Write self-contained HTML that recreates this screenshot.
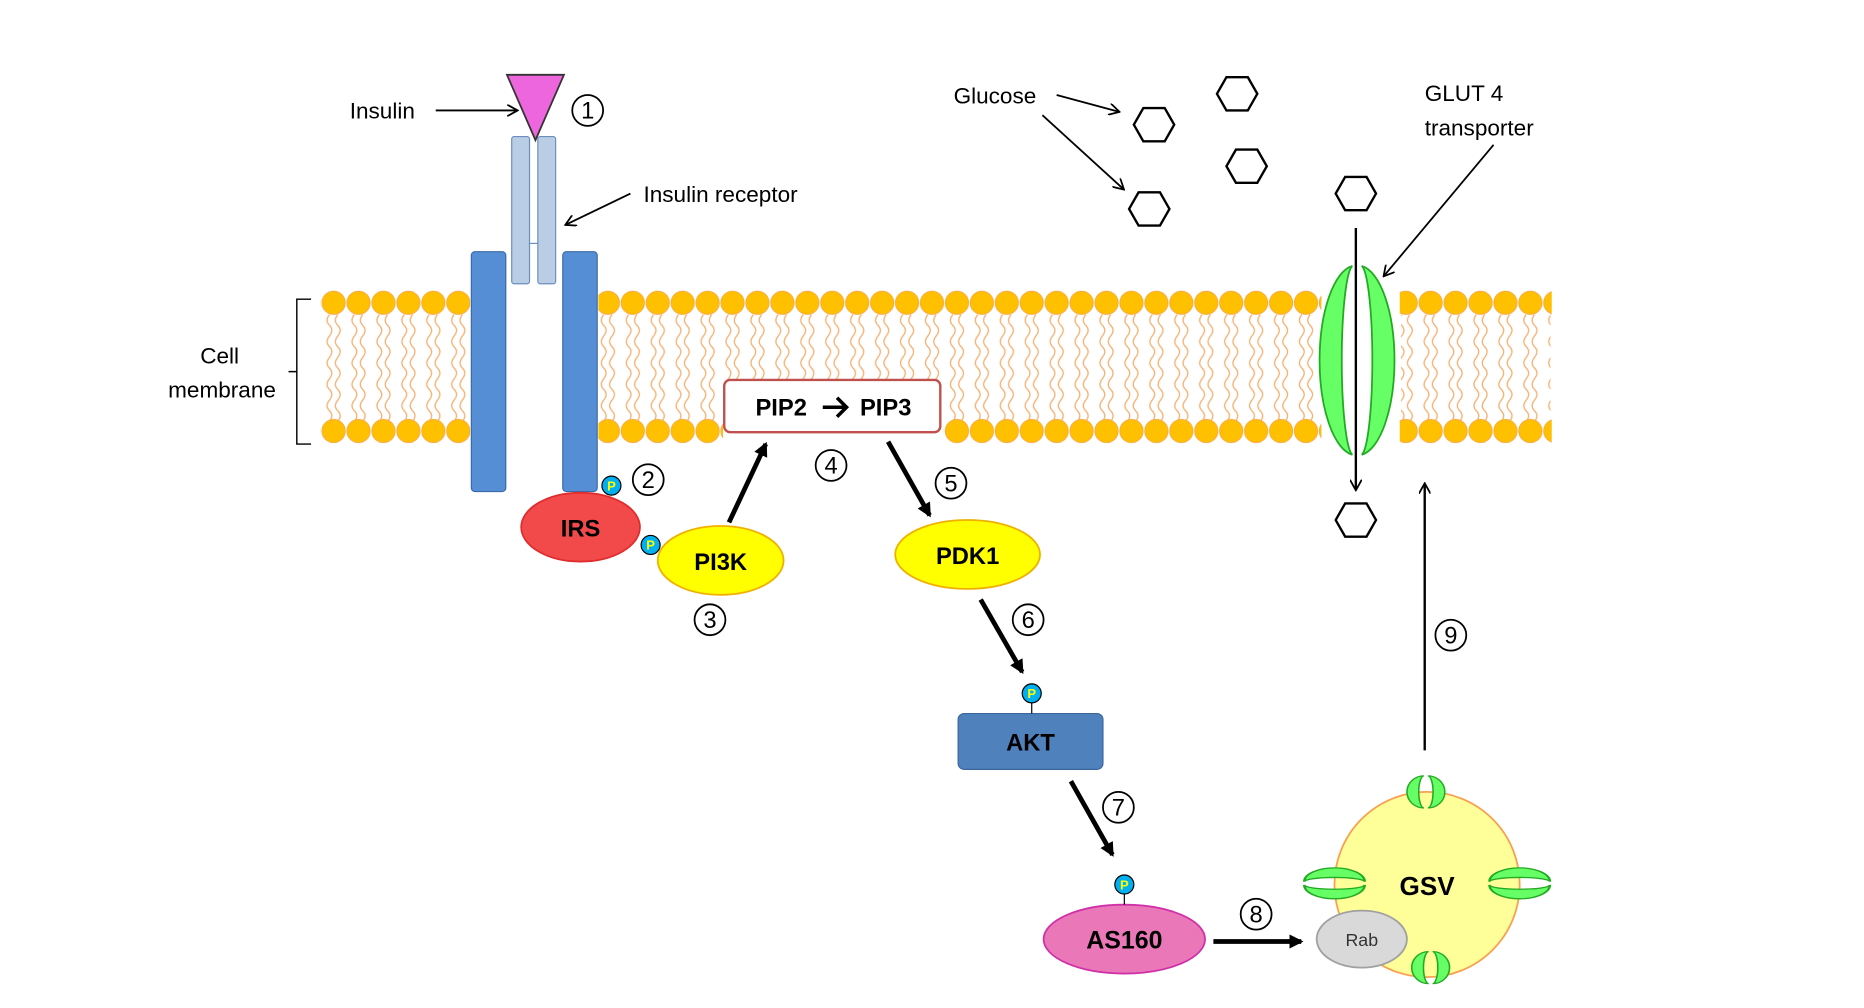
<!DOCTYPE html>
<html><head><meta charset="utf-8"><style>html,body{margin:0;padding:0;background:#fff}svg{display:block}</style></head>
<body>
<svg width="1864" height="1008" viewBox="0 0 1570 849" xmlns="http://www.w3.org/2000/svg" font-family="Liberation Sans, sans-serif">
<defs>
<pattern id="hd" x="270.5" y="0" width="21" height="840" patternUnits="userSpaceOnUse">
<circle cx="10.5" cy="255" r="9.8" fill="#ffc000" stroke="#f8a848" stroke-width="0.8"/>
<circle cx="10.5" cy="363" r="9.8" fill="#ffc000" stroke="#f8a848" stroke-width="0.8"/>
</pattern>
<pattern id="tl" x="270.5" y="0" width="21" height="840" patternUnits="userSpaceOnUse">
<path d="M7 265 q-4 5 0 9 t0 9 t0 9 t0 9 t0 9 t0 9 t0 9 t0 9 t0 9 t0 9 M14 265 q-4 5 0 9 t0 9 t0 9 t0 9 t0 9 t0 9 t0 9 t0 9 t0 9 t0 9" fill="none" stroke="#f8b070" stroke-width="1.1"/>
</pattern>
<marker id="a" markerWidth="10" markerHeight="10" refX="8" refY="5" orient="auto" markerUnits="userSpaceOnUse"><path d="M0 0 L9 5 L0 10" fill="none" stroke="#000" stroke-width="1.5"/></marker>
<marker id="b" markerWidth="12" markerHeight="12" refX="10" refY="6" orient="auto" markerUnits="userSpaceOnUse"><path d="M0 0 L12 6 L0 12 z" fill="#000"/></marker>
<g id="gl"><path d="M-1.5 -15 A13 15 0 0 0 -1.5 15 A4 15 0 0 1 -1.5 -15 z M1.5 -15 A13 15 0 0 1 1.5 15 A4 15 0 0 0 1.5 -15 z" fill="#66ff66" stroke="#22aa22" stroke-width="1.2"/></g>
<polygon id="hx" points="-17,0 -9,-14 9,-14 17,0 9,14 -9,14" fill="#fff" stroke="#000" stroke-width="2"/>
</defs>

<rect x="272" y="262" width="125" height="93" fill="url(#tl)"/>
<rect x="503" y="262" width="605" height="93" fill="url(#tl)"/>
<rect x="1180" y="262" width="126" height="93" fill="url(#tl)"/>
<rect x="270" y="244" width="126" height="22" fill="url(#hd)"/>
<rect x="270" y="352" width="126" height="22" fill="url(#hd)"/>
<rect x="504" y="244" width="609" height="22" fill="url(#hd)"/>
<rect x="504" y="352" width="105" height="22" fill="url(#hd)"/>
<rect x="795" y="352" width="318" height="22" fill="url(#hd)"/>
<rect x="1179" y="244" width="128" height="22" fill="url(#hd)"/>
<rect x="1179" y="352" width="128" height="22" fill="url(#hd)"/>

<path d="M262 252 H250 V374 H262 M250 313 H243" fill="none" stroke="#000" stroke-width="1.2"/>
<text x="185" y="306" font-size="19" text-anchor="middle">Cell</text>
<text x="187" y="335" font-size="19" text-anchor="middle">membrane</text>

<rect x="431" y="115" width="15" height="124" rx="2" fill="#b9cde5" stroke="#6c8ebf" stroke-width="1"/>
<rect x="453" y="115" width="15" height="124" rx="2" fill="#b9cde5" stroke="#6c8ebf" stroke-width="1"/>
<line x1="446" y1="205" x2="453" y2="205" stroke="#6c8ebf"/>
<rect x="397" y="212" width="29" height="202" rx="3" fill="#558ed5" stroke="#3a6aa8"/>
<rect x="474" y="212" width="29" height="202" rx="3" fill="#558ed5" stroke="#3a6aa8"/>
<polygon points="427,63 475,63 451,118" fill="#ee66dd" stroke="#333" stroke-width="1.5"/>
<text x="322" y="100" font-size="19" text-anchor="middle">Insulin</text>
<line x1="367" y1="93" x2="435" y2="93" stroke="#000" stroke-width="1.5" marker-end="url(#a)"/>
<text x="542" y="170" font-size="19">Insulin receptor</text>
<line x1="531" y1="163" x2="477" y2="189" stroke="#000" stroke-width="1.5" marker-end="url(#a)"/>

<rect x="610" y="320" width="182" height="44" rx="5" fill="#fff" stroke="#c0504d" stroke-width="2"/>
<text x="658" y="350" font-size="20" font-weight="bold" text-anchor="middle">PIP2</text>
<text x="746" y="350" font-size="20" font-weight="bold" text-anchor="middle">PIP3</text>
<path d="M693 343 H712 M705 335 L713 343 L705 351" fill="none" stroke="#000" stroke-width="3"/>

<ellipse cx="489" cy="444" rx="50" ry="29" fill="#f24a4a" stroke="#e02c2c" stroke-width="1.5"/>
<text x="489" y="452" font-size="20" font-weight="bold" text-anchor="middle">IRS</text>
<ellipse cx="607" cy="472" rx="53" ry="29" fill="#ffff00" stroke="#f0b000" stroke-width="1.5"/>
<text x="607" y="480" font-size="20" font-weight="bold" text-anchor="middle">PI3K</text>
<ellipse cx="815" cy="467" rx="61" ry="29" fill="#ffff00" stroke="#f0b000" stroke-width="1.5"/>
<text x="815" y="475" font-size="20" font-weight="bold" text-anchor="middle">PDK1</text>
<rect x="807" y="601" width="122" height="47" rx="5" fill="#4f81bd" stroke="#3b679c"/>
<text x="868" y="632" font-size="20" font-weight="bold" text-anchor="middle">AKT</text>
<ellipse cx="947" cy="791" rx="68" ry="29" fill="#ea78b8" stroke="#d030a8" stroke-width="1.5"/>
<text x="947" y="799" font-size="21" font-weight="bold" text-anchor="middle">AS160</text>

<g font-size="11" font-weight="bold" text-anchor="middle" fill="#ffff00">
<line x1="869" y1="592" x2="869" y2="601" stroke="#000"/><line x1="947" y1="753" x2="947" y2="762" stroke="#000"/>
<circle cx="515" cy="409" r="8" fill="#00b0f0" stroke="#000"/><text x="515" y="413">P</text>
<circle cx="548" cy="459" r="8" fill="#00b0f0" stroke="#000"/><text x="548" y="463">P</text>
<circle cx="869" cy="584" r="8" fill="#00b0f0" stroke="#000"/><text x="869" y="588">P</text>
<circle cx="947" cy="745" r="8" fill="#00b0f0" stroke="#000"/><text x="947" y="749">P</text>
</g>

<g stroke="#000" stroke-width="4">
<line x1="614" y1="440" x2="645" y2="374" marker-end="url(#b)"/>
<line x1="748" y1="372" x2="783" y2="434" marker-end="url(#b)"/>
<line x1="826" y1="505" x2="861" y2="566" marker-end="url(#b)"/>
<line x1="902" y1="658" x2="937" y2="720" marker-end="url(#b)"/>
<line x1="1022" y1="793" x2="1096" y2="793" marker-end="url(#b)"/>
</g>

<use href="#hx" x="972" y="105"/><use href="#hx" x="1042" y="79"/><use href="#hx" x="1050" y="140"/>
<use href="#hx" x="968" y="176"/><use href="#hx" x="1142" y="163"/><use href="#hx" x="1142" y="438"/>
<text x="838" y="87" font-size="19" text-anchor="middle">Glucose</text>
<line x1="890" y1="80" x2="942" y2="94" stroke="#000" stroke-width="1.5" marker-end="url(#a)"/>
<line x1="878" y1="97" x2="946" y2="159" stroke="#000" stroke-width="1.5" marker-end="url(#a)"/>
<text x="1200" y="85" font-size="19">GLUT 4</text>
<text x="1200" y="114" font-size="19">transporter</text>
<line x1="1258" y1="122" x2="1166" y2="232" stroke="#000" stroke-width="1.5" marker-end="url(#a)"/>

<path d="M1139 224 A31 80 0 0 0 1139 383 A10 80 0 0 1 1139 224 z M1147 224 A31 80 0 0 1 1147 383 A10 80 0 0 0 1147 224 z" fill="#66ff66" stroke="#22aa22" stroke-width="1.5"/>
<line x1="1142" y1="192" x2="1142" y2="412" stroke="#000" stroke-width="2" marker-end="url(#a)"/>

<line x1="1200" y1="632" x2="1200" y2="408" stroke="#000" stroke-width="2" marker-end="url(#a)"/>
<circle cx="1202" cy="745" r="78" fill="#ffff99" stroke="#f8a050" stroke-width="1.5"/>
<text x="1202" y="754" font-size="22" font-weight="bold" text-anchor="middle">GSV</text>
<ellipse cx="1147" cy="791" rx="38" ry="24" fill="#d9d9d9" stroke="#a0a0a0" stroke-width="1.5"/>
<text x="1147" y="797" font-size="15" text-anchor="middle" fill="#333">Rab</text>
<g transform="translate(1201,667) scale(1.1,0.9)"><use href="#gl"/></g>
<g transform="translate(1124,744) rotate(90) scale(0.9,1.7)"><use href="#gl"/></g>
<g transform="translate(1280,744) rotate(90) scale(0.9,1.7)"><use href="#gl"/></g>
<svg x="1180" y="790" width="50" height="42" overflow="hidden"><g transform="translate(25,25) scale(1.1,0.9)"><use href="#gl"/></g></svg>

<g font-size="20" text-anchor="middle" fill="none" stroke="#000" stroke-width="1.5">
<circle cx="495" cy="93" r="13"/><circle cx="546" cy="404" r="13"/><circle cx="598" cy="522" r="13"/>
<circle cx="700" cy="392" r="13"/><circle cx="801" cy="407" r="13"/><circle cx="866" cy="522" r="13"/>
<circle cx="942" cy="680" r="13"/><circle cx="1058" cy="770" r="13"/><circle cx="1222" cy="535" r="13"/>
</g>
<g font-size="20" text-anchor="middle">
<text x="495" y="100">1</text><text x="546" y="411">2</text><text x="598" y="529">3</text>
<text x="700" y="399">4</text><text x="801" y="414">5</text><text x="866" y="529">6</text>
<text x="942" y="687">7</text><text x="1058" y="777">8</text><text x="1222" y="542">9</text>
</g>
</svg>
</body></html>
